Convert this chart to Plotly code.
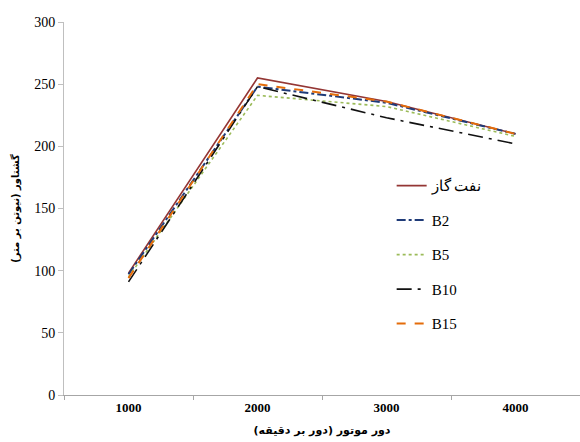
import plotly.graph_objects as go

categories = ["1000", "2000", "3000", "4000"]
series_names = ["نفت گاز", "B2", "B5", "B10", "B15"]
naft_gaz = [98, 255, 236, 210]
b2 = [97, 248, 235, 210]
b5 = [95, 241, 232, 208]
b10 = [91, 248, 223, 202]
b15 = [94, 250, 236, 210]
y_ticks = [0, 50, 100, 150, 200, 250, 300]

values = [naft_gaz, b2, b5, b10, b15]
colors = ["#943634", "#1F3B78", "#9BBB59", "#111111", "#E46C0A"]
dashes = ["solid", "dashdot", "dot", "longdashdot", "dash"]
widths = [1.6, 2.0, 1.6, 1.6, 2.0]

fig = go.Figure()
for i, (name, vals) in enumerate(zip(series_names, values)):
    fig.add_trace(go.Scatter(
        x=categories, y=vals, name=name, mode="lines",
        line=dict(color=colors[i], dash=dashes[i], width=widths[i]),
        legendgroup=f"g{i}",
    ))

fig.update_layout(
    width=580, height=442,
    margin=dict(l=64, r=0, t=22, b=47),
    plot_bgcolor="white", paper_bgcolor="white",
    font=dict(family="Liberation Serif", size=13, color="black"),
    showlegend=True,
    legend=dict(
        x=0.635, y=0.605, xanchor="left", yanchor="top",
        tracegroupgap=12, itemwidth=30,
        font=dict(family="Liberation Serif", size=15, color="black"),
        bgcolor="rgba(0,0,0,0)",
    ),
    xaxis=dict(
        type="category", range=[-0.5, 3.5],
        showline=True, linecolor="#A6A6A6", linewidth=1,
        ticks="outside", tickson="boundaries", ticklen=4, tickcolor="#A6A6A6",
        showgrid=False, zeroline=False,
        tickprefix="<b>", ticksuffix="</b>",
        tickfont=dict(family="Liberation Serif", size=13, color="black"),
        title=dict(text="<b>دور موتور (دور بر دقیقه)</b>", standoff=12,
                   font=dict(family="DejaVu Sans", size=11, color="black")),
    ),
    yaxis=dict(
        range=[0, 300], tickvals=y_ticks,
        showline=True, linecolor="#BFBFBF", linewidth=1,
        ticks="outside", ticklen=5, tickcolor="#BFBFBF",
        showgrid=False, zeroline=False,
        tickfont=dict(family="Liberation Serif", size=14, color="black"),
        title=dict(text="<b>گشتاور (نیوتن بر متر)</b>", standoff=12,
                   font=dict(family="DejaVu Sans", size=10, color="black")),
    ),
)

fig.write_html("out.html")
